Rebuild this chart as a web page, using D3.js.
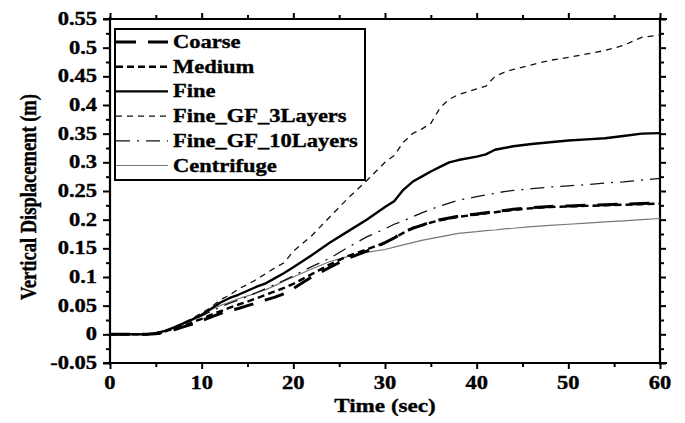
<!DOCTYPE html>
<html>
<head>
<meta charset="utf-8">
<script src="https://cdn.jsdelivr.net/npm/d3@7"></script>
<style>
  html, body { margin: 0; padding: 0; background: #fff; }
  svg text { font-family: "Liberation Serif", "Times New Roman", serif; font-weight: bold; fill: #000; stroke: #000; stroke-width: 0.35px; }
</style>
</head>
<body>
<svg id="chart" width="685" height="423"></svg>
<script>
// Time samples (sec) shared by every series
const times = [0,4,5,6,7,8,9,10,11,12,13,14,15,16,17,18,19,20,22,24,26,28,30,31,32,33,34,35,36,37,38,40,41,42,43,44,46,48,50,52,54,56,58,60];

// Vertical displacement (m) for each model
const coarse = [0,0,0.001,0.004,0.008,0.013,0.018,0.024,0.030,0.036,0.041,0.045,0.050,0.055,0.060,0.065,0.071,0.080,0.100,0.117,0.133,0.145,0.160,0.168,0.178,0.185,0.190,0.196,0.200,0.203,0.206,0.210,0.212,0.214,0.216,0.218,0.221,0.223,0.224,0.225,0.226,0.227,0.228,0.229];
const medium = [0,0,0.002,0.005,0.010,0.015,0.021,0.027,0.034,0.040,0.046,0.052,0.057,0.063,0.069,0.075,0.081,0.088,0.105,0.122,0.137,0.148,0.160,0.168,0.177,0.185,0.190,0.195,0.199,0.202,0.205,0.209,0.211,0.213,0.215,0.217,0.220,0.222,0.223,0.224,0.225,0.226,0.227,0.228];
const fine = [0,0,0.002,0.006,0.012,0.019,0.026,0.034,0.044,0.055,0.063,0.069,0.076,0.083,0.089,0.098,0.107,0.117,0.138,0.160,0.180,0.200,0.222,0.232,0.252,0.266,0.275,0.284,0.292,0.300,0.304,0.310,0.314,0.322,0.325,0.328,0.332,0.335,0.338,0.340,0.342,0.346,0.350,0.351];
const fineGF3 = [0,0,0.002,0.006,0.012,0.020,0.028,0.037,0.047,0.060,0.068,0.079,0.087,0.096,0.106,0.116,0.125,0.145,0.172,0.205,0.238,0.268,0.300,0.312,0.335,0.350,0.358,0.368,0.395,0.410,0.418,0.428,0.433,0.450,0.457,0.462,0.470,0.478,0.483,0.489,0.495,0.504,0.518,0.522];
const fineGF10 = [0,0,0.002,0.006,0.012,0.018,0.025,0.032,0.040,0.047,0.054,0.060,0.066,0.073,0.080,0.087,0.094,0.102,0.118,0.133,0.152,0.170,0.184,0.192,0.198,0.205,0.212,0.218,0.224,0.229,0.234,0.240,0.243,0.246,0.249,0.251,0.254,0.257,0.259,0.261,0.264,0.266,0.269,0.272];
const centrifuge = [0,0,0.002,0.006,0.012,0.018,0.026,0.035,0.043,0.050,0.056,0.062,0.067,0.072,0.078,0.085,0.093,0.100,0.114,0.127,0.136,0.143,0.148,0.152,0.156,0.160,0.164,0.167,0.170,0.173,0.176,0.179,0.181,0.182,0.184,0.185,0.188,0.190,0.192,0.194,0.196,0.198,0.200,0.202];

// Legend names and tick values
const seriesNames = ["Coarse", "Medium", "Fine", "Fine_GF_3Layers", "Fine_GF_10Layers", "Centrifuge"];
const xTicks = [0, 10, 20, 30, 40, 50, 60];
const xMinorTicks = [5, 15, 25, 35, 45, 55];
const yTicks = [-0.05, 0, 0.05, 0.1, 0.15, 0.2, 0.25, 0.3, 0.35, 0.4, 0.45, 0.5, 0.55];
const yTickLabels = ["-0.05", "0", "0.05", "0.1", "0.15", "0.2", "0.25", "0.3", "0.35", "0.4", "0.45", "0.5", "0.55"];

const series = [
  { name: seriesNames[0], values: coarse,     stroke: "#000", width: 3.0, dash: "20,12" },
  { name: seriesNames[1], values: medium,     stroke: "#000", width: 2.4, dash: "7,4" },
  { name: seriesNames[2], values: fine,       stroke: "#000", width: 2.4, dash: null },
  { name: seriesNames[3], values: fineGF3,    stroke: "#111", width: 1.3, dash: "6,5" },
  { name: seriesNames[4], values: fineGF10,   stroke: "#111", width: 1.3, dash: "14,7,2,7" },
  { name: seriesNames[5], values: centrifuge, stroke: "#777", width: 1.2, dash: null }
];

const svg = d3.select("#chart");
const plotL = 110, plotR = 660, plotT = 19, plotB = 363;
const SX = 1.25; // horizontal stretch of the bold serif lettering

const x = d3.scaleLinear().domain([0, 60]).range([plotL, plotR]);
const y = d3.scaleLinear().domain([-0.05, 0.55]).range([plotB, plotT]);

// Stretched text helper
function label(g, px, py, txt, anchor, size, rotate) {
  const t = g.append("g")
    .attr("transform", `translate(${px},${py}) scale(${SX},1)` + (rotate ? " rotate(-90)" : ""));
  t.append("text")
    .attr("text-anchor", anchor)
    .style("font-size", size + "px")
    .text(txt);
  return t;
}

// Axes
const yMinor = d3.range(0, 12).map(i => +(-0.025 + i * 0.05).toFixed(3));

const leftAxis = d3.axisLeft(y).tickValues(yTicks).tickSize(7).tickFormat("");
const leftMinor = d3.axisLeft(y).tickValues(yMinor).tickSize(4).tickFormat("");
const rightAxis = d3.axisRight(y).tickValues(yTicks).tickSize(6).tickFormat("");
const rightMinor = d3.axisRight(y).tickValues(yMinor).tickSize(4).tickFormat("");
const bottomAxis = d3.axisBottom(x).tickValues(xTicks).tickSize(6).tickFormat("");
const bottomMinor = d3.axisBottom(x).tickValues(xMinorTicks).tickSize(4).tickFormat("");
const topAxis = d3.axisTop(x).tickValues(xTicks).tickSize(6).tickFormat("");
const topMinor = d3.axisTop(x).tickValues(xMinorTicks).tickSize(4).tickFormat("");

function styleAxis(g) {
  g.select(".domain").remove();
  g.selectAll(".tick line").attr("stroke", "#000").attr("stroke-width", 2);
}
svg.append("g").attr("transform", `translate(${plotL},0)`).call(leftAxis).call(styleAxis);
svg.append("g").attr("transform", `translate(${plotL},0)`).call(leftMinor).call(styleAxis);
svg.append("g").attr("transform", `translate(${plotR},0)`).call(rightAxis).call(styleAxis);
svg.append("g").attr("transform", `translate(${plotR},0)`).call(rightMinor).call(styleAxis);
svg.append("g").attr("transform", `translate(0,${plotB})`).call(bottomAxis).call(styleAxis);
svg.append("g").attr("transform", `translate(0,${plotB})`).call(bottomMinor).call(styleAxis);
svg.append("g").attr("transform", `translate(0,${plotT})`).call(topAxis).call(styleAxis);
svg.append("g").attr("transform", `translate(0,${plotT})`).call(topMinor).call(styleAxis);

// Frame lines
const frame = svg.append("g").attr("stroke", "#000").attr("stroke-width", 2.2);
frame.append("line").attr("x1", plotL).attr("x2", plotL).attr("y1", plotT - 2).attr("y2", plotB + 2);
frame.append("line").attr("x1", plotR).attr("x2", plotR).attr("y1", plotT - 2).attr("y2", plotB + 2);
frame.append("line").attr("x1", plotL - 7).attr("x2", plotR + 7).attr("y1", plotT).attr("y2", plotT);
frame.append("line").attr("x1", plotL - 7).attr("x2", plotR + 7).attr("y1", plotB).attr("y2", plotB);
// zero line
svg.append("line").attr("x1", plotL).attr("x2", x(5.5)).attr("y1", y(0)).attr("y2", y(0))
  .attr("stroke", "#000").attr("stroke-width", 1.5);

// Tick labels
const labels = svg.append("g");
yTicks.forEach((v, i) => label(labels, plotL - 13, y(v) + 6, yTickLabels[i], "end", 18));
xTicks.forEach(v => label(labels, x(v), plotB + 26, String(v), "middle", 18));

// Axis titles
label(labels, 385, 412, "Time (sec)", "middle", 18.5);
label(labels, 36, 197, "Vertical Displacement (m)", "middle", 18.5, true);

// Series lines
const line = d3.line().x((d, i) => x(times[i])).y(d => y(d));
svg.append("g").selectAll("path")
  .data(series.slice().reverse())
  .join("path")
  .attr("d", s => line(s.values))
  .attr("fill", "none")
  .attr("stroke", s => s.stroke)
  .attr("stroke-width", s => s.width)
  .attr("stroke-dasharray", s => s.dash)
  .attr("stroke-linejoin", "round");

// Legend
const legend = svg.append("g");
legend.append("rect")
  .attr("x", 115).attr("y", 29).attr("width", 250).attr("height", 151)
  .attr("fill", "#fff").attr("stroke", "#000").attr("stroke-width", 2);
series.forEach((s, i) => {
  const ly = 42 + i * 24.7;
  legend.append("line")
    .attr("x1", 116).attr("x2", 168).attr("y1", ly).attr("y2", ly)
    .attr("stroke", s.stroke).attr("stroke-width", s.width)
    .attr("stroke-dasharray", s.dash);
  label(legend, 173, ly + 6, s.name, "start", 18);
});
</script>
</body>
</html>
